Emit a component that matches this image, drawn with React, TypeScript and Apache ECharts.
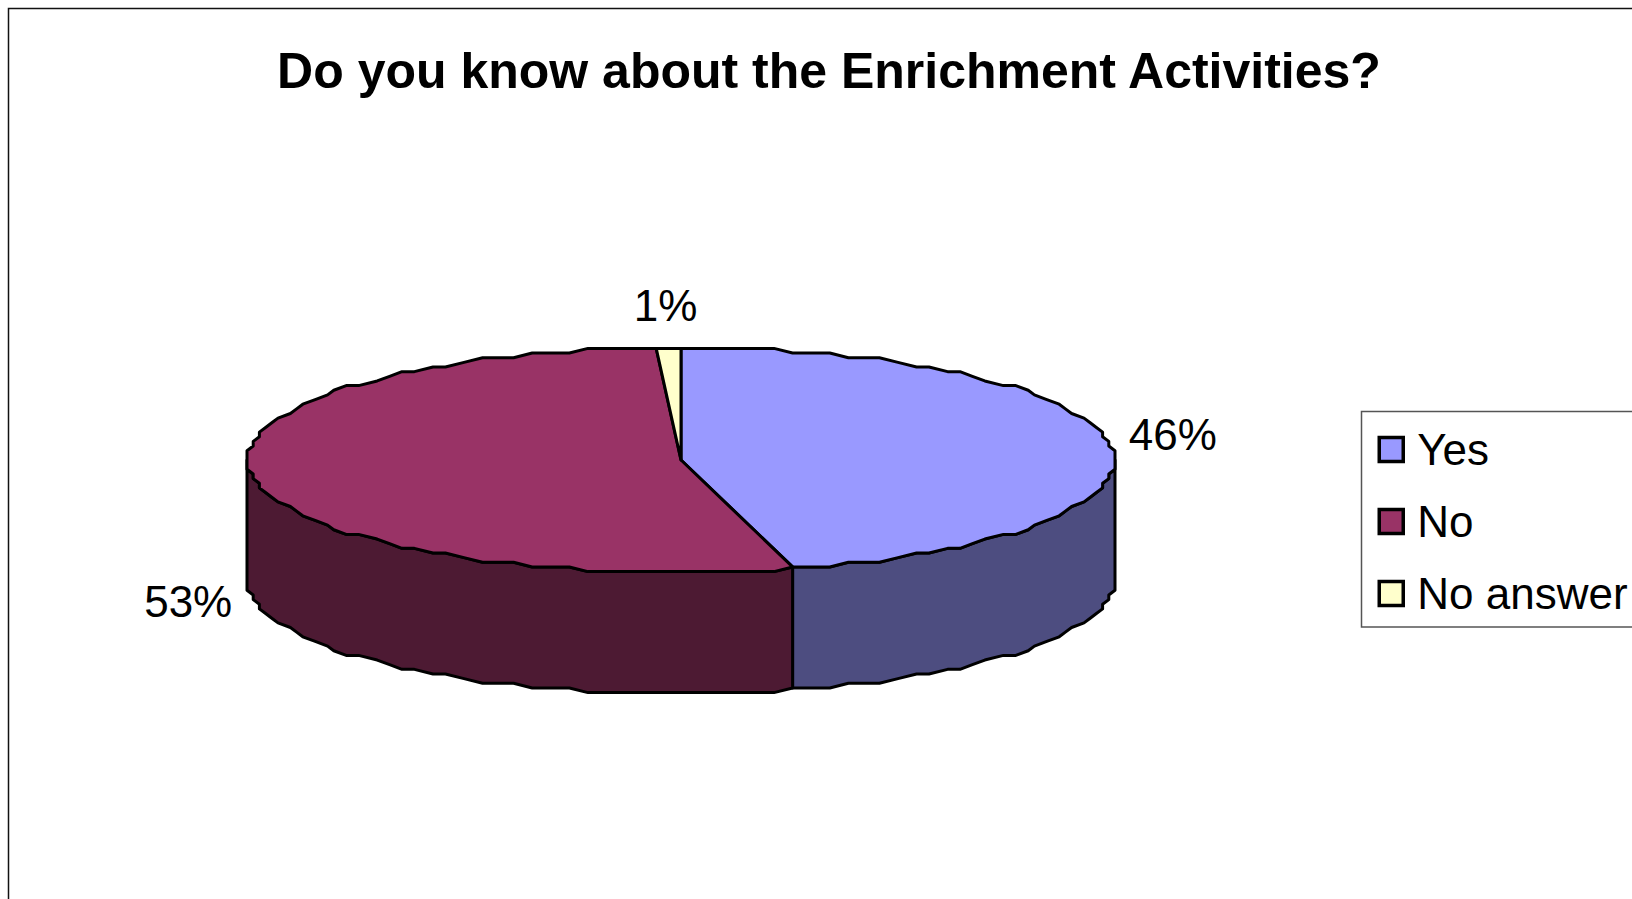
import React, { useEffect, useRef } from "react";
import * as echarts from "echarts";

const titleText = "Do you know about the Enrichment Activities?";
const categories = ["Yes", "No", "No answer"];
const seriesValues = [45.9, 53.2, 0.9];
const topColors = ["#9999FF", "#993366", "#FFFFCC"];
const sideColors = ["#4D4D80", "#4D1A33", "#80806A"];

const FONT = "'Liberation Sans', Arial, sans-serif";
const CX = 681;
const CY = 460;
const RX = 434;
const RY = 113;
const DEPTH = 121;
const SNAP_X = 6.2;
const SNAP_Y = 4.65;
const STEP = 2.5;
const labelOffsets = [
  { anchor: "top", dx: 64, dy: -12 },
  { anchor: "bottom", dx: -65, dy: 2 },
  { anchor: "top", dx: -3, dy: -43 },
];

const total = seriesValues.reduce((a, b) => a + b, 0);
const startAngle = (i: number) =>
  (seriesValues.slice(0, i).reduce((a, b) => a + b, 0) / total) * 360;

const rimPoint = (deg: number, drop = 0): number[] => {
  const r = (deg * Math.PI) / 180;
  const x = Math.round((RX * Math.sin(r)) / SNAP_X) * SNAP_X;
  const y = Math.round((RY * Math.cos(r)) / SNAP_Y) * SNAP_Y;
  return [CX + x, CY - y + drop];
};

const arcAngles = (a: number, b: number): number[] => {
  const out = [a];
  let d = (Math.floor(a / STEP) + 1) * STEP;
  while (d < b) {
    out.push(d);
    d += STEP;
  }
  out.push(b);
  return out;
};

const renderSlice = (index: number) => () => {
  const a = startAngle(index);
  const b = startAngle(index + 1);
  const children: any[] = [];
  const sa = Math.max(a, 90);
  const sb = Math.min(b, 270);
  if (sa < sb) {
    const angles = arcAngles(sa, sb);
    children.push({
      type: "polygon",
      shape: {
        points: [
          ...angles.map((d) => rimPoint(d)),
          ...angles.slice().reverse().map((d) => rimPoint(d, DEPTH)),
        ],
      },
      style: { fill: sideColors[index], stroke: "#000", lineWidth: 3, lineJoin: "round" },
    });
  }
  children.push({
    type: "polygon",
    shape: { points: [[CX, CY], ...arcAngles(a, b).map((d) => rimPoint(d))] },
    style: { fill: topColors[index], stroke: "#000", lineWidth: 3, lineJoin: "round" },
  });
  const mid = rimPoint((a + b) / 2, labelOffsets[index].anchor === "bottom" ? DEPTH : 0);
  children.push({
    type: "text",
    style: {
      text: Math.round((seriesValues[index] / total) * 100) + "%",
      x: mid[0] + labelOffsets[index].dx,
      y: mid[1] + labelOffsets[index].dy,
      fill: "#000",
      fontFamily: FONT,
      fontSize: 44,
      align: "center",
      verticalAlign: "middle",
    },
  });
  return { type: "group", children };
};

export default function App() {
  const ref = useRef<HTMLDivElement>(null);
  useEffect(() => {
    const chart = echarts.init(ref.current!, undefined, { renderer: "svg" });
    chart.setOption({
      animation: false,
      backgroundColor: "#fff",
      title: {
        text: titleText,
        left: 824,
        top: 41,
        textAlign: "center",
        textStyle: { fontFamily: FONT, fontSize: 50, fontWeight: "bold", color: "#000" },
      },
      legend: {
        data: categories,
        orient: "vertical",
        left: 1377.5,
        top: 414,
        padding: 0,
        itemWidth: 24,
        itemHeight: 24,
        itemGap: 1,
        icon: "rect",
        selectedMode: false,
        itemStyle: { borderColor: "#000", borderWidth: 3.5 },
        textStyle: {
          fontFamily: FONT,
          fontSize: 44,
          color: "#000",
          lineHeight: 52,
          padding: [0, 0, 19, 9],
        },
      },
      graphic: [
        {
          type: "polyline",
          shape: { points: [[8.5, 899], [8.5, 8.5], [1632, 8.5]] },
          style: { stroke: "#111", lineWidth: 1.5, fill: "none" },
        },
        {
          type: "polyline",
          shape: { points: [[1632, 411.5], [1361.5, 411.5], [1361.5, 627], [1632, 627]] },
          style: { stroke: "#555", lineWidth: 1.5, fill: "none" },
        },
      ],
      series: categories.map((name, i) => ({
        type: "custom",
        name,
        coordinateSystem: "none",
        silent: true,
        itemStyle: { color: topColors[i] },
        data: [[seriesValues[i]]],
        renderItem: renderSlice(i),
      })),
    });
    return () => chart.dispose();
  }, []);
  return (
    <div
      ref={ref}
      style={{ position: "fixed", left: 0, top: 0, width: 1632, height: 899, overflow: "hidden" }}
    />
  );
}
